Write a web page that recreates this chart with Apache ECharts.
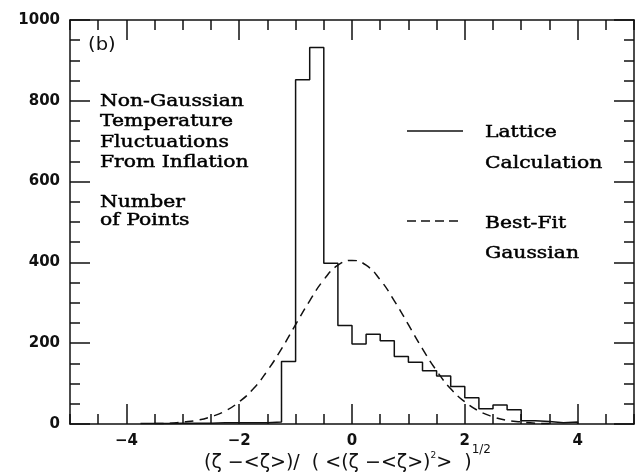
<!DOCTYPE html>
<html>
<head>
<meta charset="utf-8">
<script src="https://cdn.jsdelivr.net/npm/echarts@6/dist/echarts.min.js"></script>
<style>
  html, body { margin: 0; padding: 0; background: #fff; }
  #chart { width: 635px; height: 473px; }
</style>
</head>
<body>
<div id="chart"></div>
<script>
// Lattice calculation histogram: left edge of each 0.25-wide bin and its count
const binEdges = [-3.75, -3.5, -3.25, -3.0, -2.75, -2.5, -2.25, -2.0,
                  -1.75, -1.5, -1.25, -1.0, -0.75, -0.5, -0.25, 0.0,
                  0.25, 0.5, 0.75, 1.0, 1.25, 1.5, 1.75, 2.0,
                  2.25, 2.5, 2.75, 3.0, 3.25, 3.5, 3.75, 4.0];
const binCounts = [1, 1, 2, 2, 2, 3, 3, 3,
                   3, 5, 155, 852, 932, 398, 244, 198,
                   222, 206, 167, 153, 132, 119, 93, 65,
                   38, 47, 35, 8, 6, 3, 5, 0];

// Best-fit Gaussian, sampled along the axis
const fitX = [-3.5, -3.25, -3.0, -2.75, -2.5, -2.25, -2.0, -1.75, -1.5, -1.25,
              -1.0, -0.75, -0.5, -0.25, 0.0, 0.25, 0.5, 0.75, 1.0, 1.25,
              1.5, 1.75, 2.0, 2.25, 2.5, 2.75, 3.0, 3.25, 3.5];
const fitY = [1, 2, 5, 9, 18, 32, 55, 87, 132, 186,
              246, 305, 357, 393, 405, 393, 357, 305, 246, 186,
              132, 87, 55, 32, 18, 9, 5, 2, 1];

// Axis ticks and labels
const xMajorTicks = [-4, -2, 0, 2, 4];
const yTickStep = 200;
const seriesNames = ['Lattice Calculation', 'Best-Fit Gaussian'];

const ink = '#111';
const lineW = 1.5;
const labelFont = { fontFamily: 'DejaVu Sans', fontWeight: 'bold', fontSize: 15, color: ink };
const serif = '16px "DejaVu Serif"';

function fmtMinus(v) {
  return v < 0 ? '\u2212' + Math.abs(v) : String(v);
}

function xAxisPair(pos, withLabels) {
  const major = {
    type: 'value', position: pos, min: -5, max: 5,
    axisLine: { show: true, onZero: false, lineStyle: { color: ink, width: lineW } },
    axisTick: { show: true, inside: true, length: 20, customValues: xMajorTicks,
                lineStyle: { color: ink, width: lineW } },
    axisLabel: withLabels
      ? Object.assign({ show: true, customValues: xMajorTicks, margin: 10, formatter: fmtMinus }, labelFont)
      : { show: false },
    splitLine: { show: false }
  };
  const minor = {
    type: 'value', position: pos, min: -5, max: 5, interval: 0.5,
    axisLine: { show: false, onZero: false },
    axisTick: { show: true, inside: true, length: 10, lineStyle: { color: ink, width: lineW } },
    axisLabel: { show: false },
    splitLine: { show: false }
  };
  return [major, minor];
}

function yAxisSide(pos, withLabels) {
  return {
    type: 'value', position: pos, min: 0, max: 1000, interval: yTickStep,
    axisLine: { show: true, onZero: false, lineStyle: { color: ink, width: lineW } },
    axisTick: { show: true, inside: true, length: 20, lineStyle: { color: ink, width: lineW } },
    minorTick: { show: true, splitNumber: 4, length: 10, lineStyle: { color: ink, width: lineW } },
    axisLabel: withLabels
      ? Object.assign({ show: true, margin: 10, formatter: v => String(v) }, labelFont)
      : { show: false },
    splitLine: { show: false },
    minorSplitLine: { show: false }
  };
}

const xBottom = xAxisPair('bottom', true);
xBottom[0].name = '{m|(\u03b6 \u2212<\u03b6>)/  ( <(\u03b6 \u2212<\u03b6>)}{s|2}{m|>  )}{h|1/2}';
xBottom[0].nameLocation = 'middle';
xBottom[0].nameGap = 20;
xBottom[0].nameMoveOverlap = false;
xBottom[0].nameTextStyle = {
  padding: [0, 9, 0, 0],
  verticalAlign: 'top',
  rich: {
    m: { fontFamily: 'DejaVu Sans', fontSize: 19, color: ink, lineHeight: 29, verticalAlign: 'bottom' },
    s: { fontFamily: 'DejaVu Sans', fontSize: 9, color: ink, lineHeight: 29, verticalAlign: 'top', padding: [7, 0, 0, 0] },
    h: { fontFamily: 'DejaVu Sans', fontSize: 12, color: ink, lineHeight: 29, verticalAlign: 'top' }
  }
};
const xTop = xAxisPair('top', false);

const histData = binEdges.map((e, i) => [e, binCounts[i]]);
const fitData = fitX.map((x, i) => [x, fitY[i]]);

function serifText(str, x, baseline, sx) {
  return {
    type: 'text', x: x, y: baseline - 4.5, scaleX: sx || 1.27, silent: true,
    style: { text: str, font: serif, fill: '#000', stroke: '#000', lineWidth: 0.45,
             textAlign: 'left', align: 'left',
             textVerticalAlign: 'middle', verticalAlign: 'middle' }
  };
}

const option = {
  animation: false,
  backgroundColor: '#fff',
  grid: { left: 70, top: 20, width: 564, height: 404, outerBoundsMode: 'none', containLabel: false },
  xAxis: [xBottom[0], xBottom[1], xTop[0], xTop[1]],
  yAxis: [yAxisSide('left', true), yAxisSide('right', false)],
  series: [
    {
      name: seriesNames[0], type: 'line', step: 'end', data: histData,
      xAxisIndex: 0, yAxisIndex: 0, symbol: 'none',
      lineStyle: { color: ink, width: lineW }
    },
    {
      name: seriesNames[1], type: 'line', smooth: true, data: fitData,
      xAxisIndex: 0, yAxisIndex: 0, symbol: 'none',
      lineStyle: { color: ink, width: lineW, type: [9, 6] }
    }
  ],
  graphic: [
    {
      type: 'text', x: 88, y: 46, scaleX: 1.15, silent: true,
      style: { text: '(b)', font: '17px "DejaVu Sans"', fill: ink,
               textVerticalAlign: 'middle', verticalAlign: 'middle' }
    },
    serifText('Non-Gaussian', 100, 106),
    serifText('Temperature', 100, 126.5),
    serifText('Fluctuations', 100, 147),
    serifText('From Inflation', 100, 167),
    serifText('Number', 100, 207),
    serifText('of Points', 100, 225),
    {
      type: 'line', silent: true,
      shape: { x1: 407, y1: 131, x2: 463, y2: 131 },
      style: { stroke: ink, lineWidth: lineW }
    },
    serifText('Lattice', 485, 137),
    serifText('Calculation', 485, 168),
    {
      type: 'line', silent: true,
      shape: { x1: 407, y1: 221, x2: 463, y2: 221 },
      style: { stroke: ink, lineWidth: lineW, lineDash: [9, 5] }
    },
    serifText('Best-Fit', 485, 228),
    serifText('Gaussian', 485, 258)
  ]
};

const chart = echarts.init(document.getElementById('chart'), null, { renderer: 'canvas' });
chart.setOption(option);
</script>
</body>
</html>
